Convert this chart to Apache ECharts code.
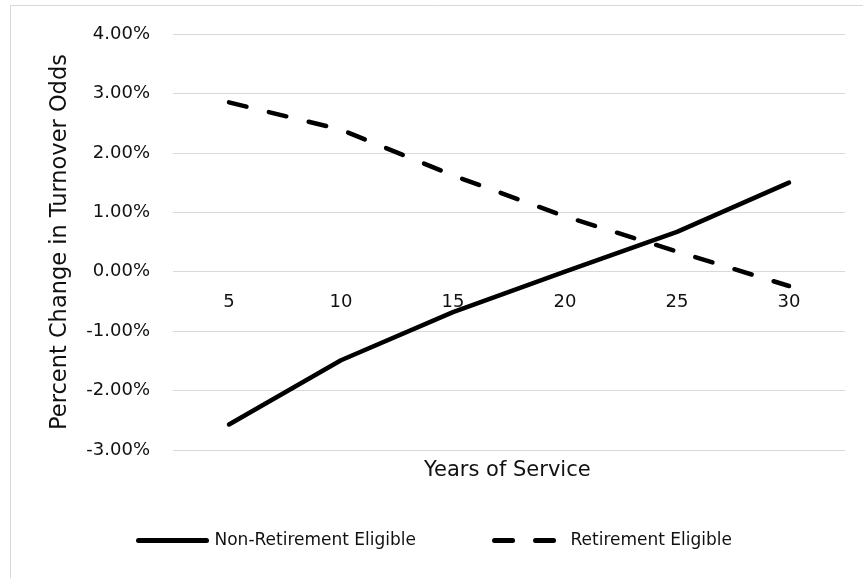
<!DOCTYPE html>
<html>
<head>
<meta charset="utf-8">
<script src="https://cdn.jsdelivr.net/npm/echarts@6/dist/echarts.min.js"></script>
<style>
html,body{margin:0;padding:0;background:#fff;}
#chart{width:863px;height:578px;}
</style>
</head>
<body>
<div id="chart"></div>
<script>
var categories = ['5', '10', '15', '20', '25', '30'];
var nonRetirementEligible = [-2.57, -1.49, -0.68, 0.0, 0.67, 1.50];
var retirementEligible = [2.85, 2.39, 1.62, 0.93, 0.34, -0.24];
var yTickValues = [-3, -2, -1, 0, 1, 2, 3, 4];
var seriesNames = ['Non-Retirement Eligible', 'Retirement Eligible'];
var xAxisTitle = 'Years of Service';
var yAxisTitle = 'Percent Change in Turnover Odds';

var FONT = 'DejaVu Sans';
var chart = echarts.init(document.getElementById('chart'), null, {renderer: 'canvas'});
chart.setOption({
  backgroundColor: '#ffffff',
  animation: false,
  graphic: [{
    type: 'rect',
    shape: {x: 10.5, y: 5.5, width: 870, height: 600},
    style: {fill: 'none', stroke: '#d9d9d9', lineWidth: 1},
    silent: true
  }],
  title: {
    text: xAxisTitle,
    left: 424,
    top: 460,
    padding: 0,
    textStyle: {fontFamily: FONT, fontSize: 21, fontWeight: 'normal', color: '#111'}
  },
  grid: {left: 173, right: 18, top: 34, bottom: 128, containLabel: false},
  xAxis: {
    type: 'category',
    data: categories,
    boundaryGap: true,
    offset: -178,
    axisLine: {show: false, onZero: false},
    axisTick: {show: false},
    axisLabel: {margin: 21, fontFamily: FONT, fontSize: 18, color: '#111'},
    splitLine: {show: false}
  },
  yAxis: {
    type: 'value',
    min: yTickValues[0],
    max: yTickValues[yTickValues.length - 1],
    interval: 1,
    name: yAxisTitle,
    nameLocation: 'middle',
    nameGap: 101,
    nameTextStyle: {fontFamily: FONT, fontSize: 22.5, color: '#111'},
    axisLine: {show: false},
    axisTick: {show: false},
    axisLabel: {
      margin: 23, fontFamily: FONT, fontSize: 18, color: '#111',
      formatter: function (v) { return v.toFixed(2) + '%'; }
    },
    splitLine: {show: true, lineStyle: {color: '#d9d9d9', width: 1}}
  },
  legend: {
    left: 136,
    top: 532,
    padding: 0,
    itemWidth: 68,
    itemHeight: 20,
    itemGap: 76,
    textStyle: {fontFamily: FONT, fontSize: 17, color: '#111', padding: [0, 0, 0, 3]},
    itemStyle: {opacity: 0, borderWidth: 0},
    lineStyle: {width: 5, opacity: 1},
    data: seriesNames
  },
  series: [{
    name: seriesNames[0],
    type: 'line',
    data: nonRetirementEligible,
    symbol: 'none',
    showSymbol: false,
    lineStyle: {color: '#000', width: 4.5, cap: 'round', join: 'round'},
    itemStyle: {color: '#000'}
  }, {
    name: seriesNames[1],
    type: 'line',
    data: retirementEligible,
    symbol: 'none',
    showSymbol: false,
    lineStyle: {color: '#000', width: 4.5, type: [18, 23], cap: 'round', join: 'round'},
    itemStyle: {color: '#000'}
  }]
});
</script>
</body>
</html>
